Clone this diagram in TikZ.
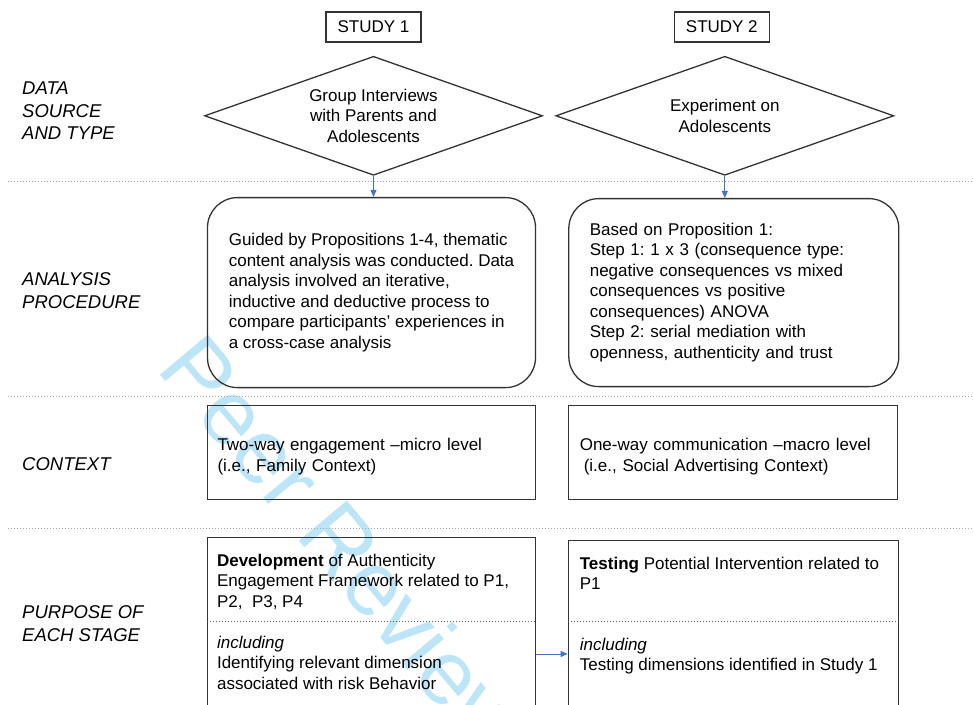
\documentclass[tikz,border=0pt]{standalone}
\usepackage{fontspec}
\setmainfont{Liberation Sans}
\usepackage{xcolor}
\definecolor{frameDark}{HTML}{333333}
\definecolor{sepGray}{HTML}{A6A6A6}
\definecolor{flowBlue}{HTML}{4472C4}
\definecolor{stampBlue}{HTML}{BDE5F8}
\usetikzlibrary{shapes.geometric,arrows.meta,positioning}
\frenchspacing
\tikzset{
    body/.style={
        font=\fontsize{17pt}{20.5pt}\selectfont
    },
    rowlabel/.style={
        font=\fontsize{18.5pt}{22.5pt}\selectfont\itshape,
        align=left,
        anchor=west,
        inner sep=0pt
    },
    study/.style={
        draw=frameDark,
        line width=1.3pt,
        rectangle,
        minimum width=95pt,
        minimum height=30pt,
        body
    },
    source/.style={
        draw=frameDark,
        line width=1.3pt,
        diamond,
        aspect=2.84,
        minimum width=338pt,
        minimum height=119pt,
        inner sep=0pt,
        align=center,
        body
    },
    procedure/.style={
        draw=frameDark,
        line width=1.3pt,
        rectangle,
        rounded corners=30pt,
        align=left,
        body
    },
    stagebox/.style={
        draw=frameDark,
        line width=1.3pt,
        rectangle,
        align=left,
        body
    },
    celltext/.style={
        inner sep=0pt,
        align=left,
        body
    },
    separator/.style={
        draw=sepGray,
        line width=1pt,
        dash pattern=on 1.2pt off 1.8pt
    },
    divider/.style={
        draw=frameDark!80,
        line width=0.8pt,
        dash pattern=on 1.2pt off 1.8pt
    },
    flow/.style={
        -{Triangle[length=7pt,width=6pt]},
        line width=0.8pt,
        color=flowBlue
    },
    stamp/.style={
        font=\fontsize{91pt}{91pt}\selectfont,
        text=stampBlue,
        anchor=base west,
        inner sep=0pt,
        rotate=-50
    }
}

\begin{document}
\begin{tikzpicture}
    \useasboundingbox (0,0) rectangle (973pt,-704pt);
    \node[stamp] (stamp) at (155pt,-369pt) {Peer Review};

    % row labels
    \node[rowlabel] (lblsource) at (22pt,-111pt) {DATA\\SOURCE\\AND TYPE};
    \node[rowlabel] (lblanalysis) at (22pt,-290.5pt) {ANALYSIS\\PROCEDURE};
    \node[rowlabel] (lblcontext) at (22pt,-464pt) {CONTEXT};
    \node[rowlabel] (lblpurpose) at (22pt,-623.5pt) {PURPOSE OF\\EACH STAGE};

    % dotted row separators
    \draw[separator] (8pt,-181pt) -- (973pt,-181pt);
    \draw[separator] (8pt,-396pt) -- (973pt,-396pt);
    \draw[separator] (8pt,-528pt) -- (973pt,-528pt);

    \node[study] (study1) at (373.5pt,-27pt) {STUDY 1};
    \node[study, right=252pt of study1] (study2) {STUDY 2};

    \node[source, below=13pt of study1] (source1) {Group Interviews\\with Parents and\\Adolescents};
    \node[source, right=12pt of source1] (source2) {Experiment on\\Adolescents};

    \node[procedure, below=21pt of source1, xshift=-2pt, minimum width=328pt, minimum height=190pt] (analysis1)
        {Guided by Propositions 1-4, thematic\\content analysis was conducted. Data\\analysis involved an iterative,\\inductive and deductive process to\\compare participants’ experiences in\\a cross-case analysis};
    \node[procedure, right=32pt of analysis1, minimum height=188pt,
        inner xsep=21pt, text width=288pt] (analysis2)
        {Based on Proposition 1:\\Step 1: 1 x 3 (consequence type:\\negative consequences vs mixed\\consequences vs positive\\consequences) ANOVA\\Step 2: serial mediation with\\openness, authenticity and trust};

    \node[stagebox, below=16.7pt of analysis1, minimum height=94pt, text height=20.4pt,
        inner xsep=10pt, text width=308pt] (context1)
        {Two-way engagement –micro level\\(i.e., Family Context)};
    \node[stagebox, right=32pt of context1, minimum height=94pt, text height=20.4pt,
        inner xsep=11pt, text width=307pt] (context2)
        {One-way communication –macro level\\\hspace*{4pt}(i.e., Social Advertising Context)};

    % purpose frames run off the bottom edge
    \node[stagebox, below=36.7pt of context1, minimum width=328pt, minimum height=190pt] (purpose1) {};
    \node[stagebox, below=39.7pt of context2, minimum width=330pt, minimum height=190pt] (purpose2) {};
    \draw[divider] ([yshift=-84pt]purpose1.north west) -- ([yshift=-84pt]purpose1.north east);
    \draw[divider] ([yshift=-81pt]purpose2.north west) -- ([yshift=-81pt]purpose2.north east);

    \node[celltext, below right=17pt and 10pt of purpose1.north west] (develop)
        {\textbf{Development} of Authenticity\\Engagement Framework related to P1,\\P2,\ \ P3, P4};
    \node[celltext, below right=99pt and 10pt of purpose1.north west] (identify)
        {\textit{including}\\Identifying relevant dimension\\associated with risk Behavior};
    \node[celltext, below right=17pt and 12pt of purpose2.north west] (testing)
        {\textbf{Testing} Potential Intervention related to\\P1};
    \node[celltext, below right=98pt and 12pt of purpose2.north west] (testdims)
        {\textit{including}\\Testing dimensions identified in Study 1};

    \draw[flow] (source1.south) -- (source1.south |- analysis1.north);
    \draw[flow] (source2.south) -- (source2.south |- analysis2.north);
    \coordinate (handoff) at ([yshift=-117pt]purpose1.north east);
    \draw[flow] (handoff) -- (handoff -| purpose2.west);
\end{tikzpicture}
\end{document}
